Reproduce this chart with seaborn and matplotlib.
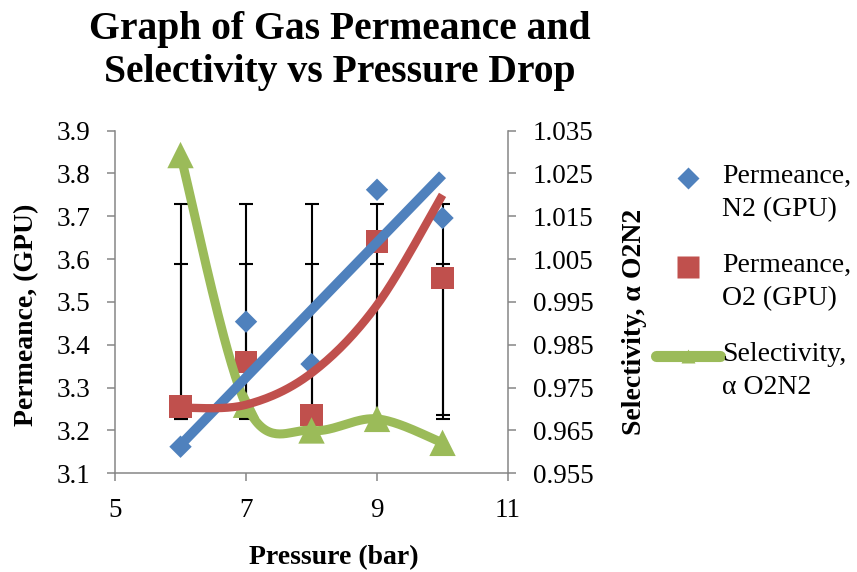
import numpy as np
import matplotlib
matplotlib.use("Agg")
import matplotlib.pyplot as plt
from matplotlib.lines import Line2D
import seaborn as sns

# data
pressure = [6, 7, 8, 9, 10]
perm_n2 = [3.162, 3.454, 3.355, 3.762, 3.696]
perm_o2 = [3.256, 3.359, 3.236, 3.641, 3.556]
selectivity = [1.0293, 0.9710, 0.9650, 0.9677, 0.9621]

# error bars (two sets, absolute low / high ends)
err_a_low = [3.226, 3.228, 3.226, 3.226, 3.236]
err_a_high = [3.729, 3.729, 3.729, 3.729, 3.729]
err_b_low = [3.226, 3.226, 3.226, 3.226, 3.226]
err_b_high = [3.589, 3.589, 3.589, 3.589, 3.589]

# trend lines as drawn
n2_trend_x = [6, 10]
n2_trend_y = [3.166, 3.797]
o2_trend_y = [3.253, 3.260, 3.334, 3.493, 3.750]

x_ticks = [5, 7, 9, 11]
left_ticks = [3.1, 3.2, 3.3, 3.4, 3.5, 3.6, 3.7, 3.8, 3.9]
right_ticks = [0.955, 0.965, 0.975, 0.985, 0.995, 1.005, 1.015, 1.025, 1.035]

BLUE = "#4F81BD"
RED = "#C0504D"
GREEN = "#9BBB59"
GRAY = "#868686"


def excel_smooth(xs, ys, n=40):
    """Bezier smoothing like Excel's 'smoothed line' option."""
    pts = np.column_stack([xs, ys]).astype(float)
    out = [pts[0]]
    t = np.linspace(0, 1, n)[1:, None]
    for i in range(len(pts) - 1):
        p0 = pts[max(i - 1, 0)]
        p1 = pts[i]
        p2 = pts[i + 1]
        p3 = pts[min(i + 2, len(pts) - 1)]
        c1 = p1 + (p2 - p0) / 6
        c2 = p2 - (p3 - p1) / 6
        seg = (1 - t) ** 3 * p1 + 3 * (1 - t) ** 2 * t * c1 + 3 * (1 - t) * t ** 2 * c2 + t ** 3 * p2
        out.extend(seg)
    out = np.array(out)
    return out[:, 0], out[:, 1]


sns.set_theme(style="white")
plt.rcParams["font.family"] = ["Liberation Serif", "DejaVu Serif"]
plt.rcParams["text.color"] = "black"
plt.rcParams["axes.labelcolor"] = "black"

fig = plt.figure(figsize=(8.57, 5.72), dpi=100)
ax = fig.add_axes([0.1342, 0.1726, 0.4586, 0.5990])
ax2 = ax.twinx()

# error bars
for low, high in [(err_a_low, err_a_high), (err_b_low, err_b_high)]:
    low = np.array(low)
    high = np.array(high)
    ax.errorbar(pressure, low, yerr=[np.zeros_like(low), high - low], fmt="none",
                ecolor="black", elinewidth=1.5, capsize=5, capthick=1.5, zorder=1)

# permeance markers
sns.scatterplot(x=pressure, y=perm_n2, marker="D", s=130, color=BLUE,
                edgecolor="none", ax=ax, zorder=3, legend=False)
sns.scatterplot(x=pressure, y=perm_o2, marker="s", s=256, color=RED,
                edgecolor="none", ax=ax, zorder=3, legend=False)

# selectivity smoothed line with triangles
sx, sy = excel_smooth(pressure, selectivity)
ax2.plot(sx, sy, color=GREEN, lw=6.5, solid_capstyle="butt", zorder=2)
sns.scatterplot(x=pressure, y=selectivity, marker="^", s=361, color=GREEN,
                edgecolor="none", ax=ax2, zorder=3, legend=False)

# trend lines on top, in permeance coordinates
ax2.plot(n2_trend_x, n2_trend_y, color=BLUE, lw=7, solid_capstyle="butt",
         transform=ax.transData, zorder=4)
tx, ty = excel_smooth(pressure, o2_trend_y)
ax2.plot(tx, ty, color=RED, lw=6, solid_capstyle="butt",
         transform=ax.transData, zorder=4)

# axes
ax.set_xlim(5, 11)
ax.set_ylim(3.1, 3.9)
ax2.set_ylim(0.955, 1.035)
ax.set_xticks(x_ticks)
ax.set_xticklabels([str(v) for v in x_ticks])
ax.set_yticks(left_ticks)
ax.set_yticklabels([f"{v:.1f}" for v in left_ticks])
ax2.set_yticks(right_ticks)
ax2.set_yticklabels([f"{v:.3f}" for v in right_ticks])

for a in (ax, ax2):
    for side in ("top", "left", "right", "bottom"):
        a.spines[side].set_visible(False)
    a.grid(False)
for side in ("left", "bottom"):
    ax.spines[side].set_visible(True)
    ax.spines[side].set_color(GRAY)
    ax.spines[side].set_linewidth(1.1)
ax2.spines["right"].set_visible(True)
ax2.spines["right"].set_color(GRAY)
ax2.spines["right"].set_linewidth(1.1)

ax.tick_params(axis="both", direction="out", length=6, width=1.1, color=GRAY,
               pad=12, labelsize=19.5, labelcolor="black", bottom=True, left=True)
ax2.tick_params(axis="y", direction="out", length=6, width=1.1, color=GRAY,
                pad=12, labelsize=19.5, labelcolor="black", right=True)

ax.set_xlabel("Pressure (bar)", fontsize=20, fontweight="bold")
ax.xaxis.set_label_coords(0.557, -0.209)
ax.set_ylabel("Permeance, (GPU)", fontsize=20, fontweight="bold", va="center", ha="center")
ax.yaxis.set_label_coords(-0.226, 0.462)
ax2.set_ylabel("Selectivity, \u03b1 O2N2", fontsize=20, fontweight="bold",
               va="center", ha="center", rotation=90)
ax2.yaxis.set_label_coords(1.322, 0.442)

fig.text(340 / 857, 1 - 51 / 572, "Graph of Gas Permeance and\nSelectivity vs Pressure Drop",
         ha="center", va="center", fontsize=28.5, fontweight="bold", linespacing=1.2)

handles = [
    Line2D([], [], marker="D", ls="none", ms=11.4, color=BLUE, mec="none"),
    Line2D([], [], marker="s", ls="none", ms=16, color=RED, mec="none"),
    Line2D([], [], marker="^", ls="-", lw=8, ms=10, color=GREEN, mec="none"),
]
labels = ["Permeance,\nN2 (GPU)", "Permeance,\nO2 (GPU)", "Selectivity,\n\u03b1 O2N2"]
leg = fig.legend(handles, labels, loc="upper left", bbox_to_anchor=(656 / 857, 1 - 164 / 572),
                 frameon=False, fontsize=20, handlelength=2.3, handletextpad=0.08,
                 labelspacing=1.12, borderpad=0, borderaxespad=0)
for t in leg.get_texts():
    t.set_linespacing(1.42)
# Excel puts the legend symbol level with the first text line
for h in leg.legend_handles:
    h.set_ydata(np.asarray(h.get_ydata(), dtype=float) + 10.5)

fig.savefig("out.png", dpi=100)
